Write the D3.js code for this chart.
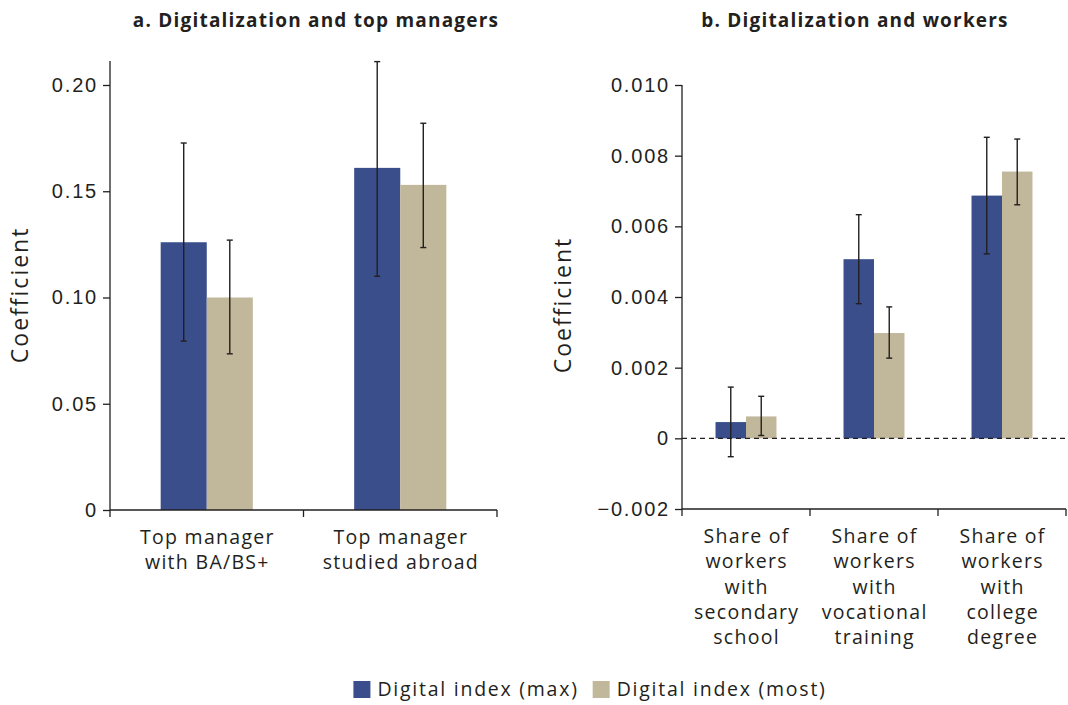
<!DOCTYPE html>
<html>
<head>
<meta charset="utf-8">
<script src="https://cdn.jsdelivr.net/npm/d3@7"></script>
<style>
  body { margin: 0; background: #fff; }
  svg { font-family: "Open Sans", sans-serif; }
  .tick text { font-size: 20px; fill: #231f20; letter-spacing: 1.8px; }
  .domain, .tick line { stroke: #231f20; stroke-width: 1.3; }
</style>
</head>
<body>
<svg id="chart" width="1068" height="705"></svg>
<script>
// series
let seriesNames = ['Digital index (max)', 'Digital index (most)']
let seriesColors = ['#394e8b', '#c1b79a']

// panel a
let catsA = [['Top manager', 'with BA/BS+'], ['Top manager', 'studied abroad']]
let valA = [[0.126, 0.100], [0.161, 0.153]]
let loA = [[0.0795, 0.0735], [0.110, 0.1235]]
let hiA = [[0.1727, 0.127], [0.211, 0.182]]
let ticksA = [0, 0.05, 0.10, 0.15, 0.20]
let tickLabA = ['0', '0.05', '0.10', '0.15', '0.20']

// panel b
let catsB = [
	['Share of', 'workers', 'with', 'secondary', 'school'],
	['Share of', 'workers', 'with', 'vocational', 'training'],
	['Share of', 'workers', 'with', 'college', 'degree']
]
let valB = [[0.00046, 0.00062], [0.00507, 0.00298], [0.00687, 0.00755]]
let loB = [[-0.00052, 0.00008], [0.00381, 0.00227], [0.00522, 0.00661]]
let hiB = [[0.00145, 0.00119], [0.00633, 0.00372], [0.00852, 0.00847]]
let ticksB = [-0.002, 0, 0.002, 0.004, 0.006, 0.008, 0.010]
let tickLabB = ['\u22120.002', '0', '0.002', '0.004', '0.006', '0.008', '0.010']

let svg = d3.select('#chart')

function drawPanel(opt){
	let g = svg.append('g')

	let x0 = d3.scaleBand()
		.domain(d3.range(opt.cats.length))
		.range([opt.left, opt.right])
		.paddingInner(0).paddingOuter(0)

	let x1 = d3.scaleBand()
		.domain([0, 1])
		.range([0, x0.bandwidth()])
		.paddingInner(0).paddingOuter(1.1)

	let y = d3.scaleLinear()
		.domain(opt.domain)
		.range([opt.bottom, opt.top])

	// title
	g.append('text')
		.attr('x', opt.titleX)
		.attr('y', 27)
		.attr('text-anchor', 'middle')
		.style('font-size', '19px')
		.style('font-weight', 'bold')
		.style('letter-spacing', '1.2px')
		.attr('fill', '#231f20')
		.text(opt.title)

	// y label
	g.append('text')
		.attr('transform', `translate(${opt.ylabX}, ${(opt.top + opt.bottom) / 2 + 8}) rotate(-90)`)
		.attr('text-anchor', 'middle')
		.style('font-size', '23px')
		.style('letter-spacing', '2px')
		.attr('fill', '#231f20')
		.text('Coefficient')

	// bars
	opt.vals.forEach((pair, i) => {
		pair.forEach((v, s) => {
			let bx = x0(i) + x1(s)
			g.append('rect')
				.attr('x', bx)
				.attr('width', x1.bandwidth())
				.attr('y', y(Math.max(v, 0)))
				.attr('height', Math.abs(y(v) - y(0)))
				.attr('fill', seriesColors[s])
		})
	})

	// zero dashed line
	if (opt.zeroLine) {
		g.append('line')
			.attr('x1', opt.left).attr('x2', opt.right)
			.attr('y1', y(0)).attr('y2', y(0))
			.attr('stroke', '#231f20')
			.attr('stroke-width', 1.2)
			.attr('stroke-dasharray', '5,4')
	}

	// error bars
	opt.vals.forEach((pair, i) => {
		pair.forEach((v, s) => {
			let cx = x0(i) + x1(s) + x1.bandwidth() / 2
			let lo = y(opt.lo[i][s]), hi = y(opt.hi[i][s])
			let eg = g.append('g').attr('stroke', '#231f20').attr('stroke-width', 1.4)
			eg.append('line').attr('x1', cx).attr('x2', cx).attr('y1', lo).attr('y2', hi)
			eg.append('line').attr('x1', cx - 3).attr('x2', cx + 3).attr('y1', lo).attr('y2', lo)
			eg.append('line').attr('x1', cx - 3).attr('x2', cx + 3).attr('y1', hi).attr('y2', hi)
		})
	})

	// y axis
	let axisY = d3.axisLeft(y)
		.tickValues(opt.ticks)
		.tickFormat((d, i) => opt.tickLab[i])
		.tickSize(7)
		.tickSizeOuter(0)
		.tickPadding(5)
	let ya = g.append('g')
		.attr('transform', `translate(${opt.left},0)`)
		.call(axisY)
	ya.select('.domain').attr('d', `M0,${opt.axisTop}V${opt.bottom}`)

	// x axis: line with ticks at category boundaries
	let xa = g.append('g')
	xa.append('line')
		.attr('x1', opt.left).attr('x2', opt.right)
		.attr('y1', opt.bottom).attr('y2', opt.bottom)
		.attr('stroke', '#231f20').attr('stroke-width', 1.3)
	let bounds = d3.range(opt.cats.length + 1).map(i => i < opt.cats.length ? x0(i) : x0(i - 1) + x0.bandwidth())
	bounds.forEach(bx => {
		xa.append('line')
			.attr('x1', bx).attr('x2', bx)
			.attr('y1', opt.bottom).attr('y2', opt.bottom + 7)
			.attr('stroke', '#231f20').attr('stroke-width', 1.3)
	})
	opt.cats.forEach((lines, i) => {
		let cx = x0(i) + x0.bandwidth() / 2
		let t = xa.append('text')
			.attr('y', opt.bottom + 34)
			.attr('text-anchor', 'middle')
			.style('font-size', '19.5px')
			.style('letter-spacing', '1.3px')
			.attr('fill', '#231f20')
		lines.forEach((l, k) => {
			t.append('tspan')
				.attr('x', cx + 0.65)
				.attr('dy', k == 0 ? 0 : 25.3)
				.text(l)
		})
	})
}

drawPanel({
	cats: catsA, vals: valA, lo: loA, hi: hiA,
	ticks: ticksA, tickLab: tickLabA,
	domain: [0, 0.21], left: 110, right: 497, top: 63.75, bottom: 510, axisTop: 61,
	title: 'a. Digitalization and top managers', titleX: 316, ylabX: 28, zeroLine: false
})

drawPanel({
	cats: catsB, vals: valB, lo: loB, hi: hiB,
	ticks: ticksB, tickLab: tickLabB,
	domain: [-0.002, 0.010], left: 682, right: 1066, top: 85, bottom: 509, axisTop: 85,
	title: 'b. Digitalization and workers', titleX: 855, ylabX: 571, zeroLine: true
})

// legend, centred under the chart
let legend = svg.append('g')
let lx = 0
seriesNames.forEach((name, i) => {
	let item = legend.append('g').attr('transform', `translate(${lx}, 0)`)
	item.append('rect').attr('width', 17).attr('height', 17).attr('fill', seriesColors[i])
	let t = item.append('text')
		.attr('x', 24).attr('y', 15)
		.style('font-size', '19.5px')
		.style('letter-spacing', '1.75px')
		.attr('fill', '#231f20')
		.text(name)
	lx += 24 + t.node().getComputedTextLength() + (i < seriesNames.length - 1 ? 14 : 0)
})
legend.attr('transform', `translate(${590 - lx / 2}, 681)`)
</script>
</body>
</html>
